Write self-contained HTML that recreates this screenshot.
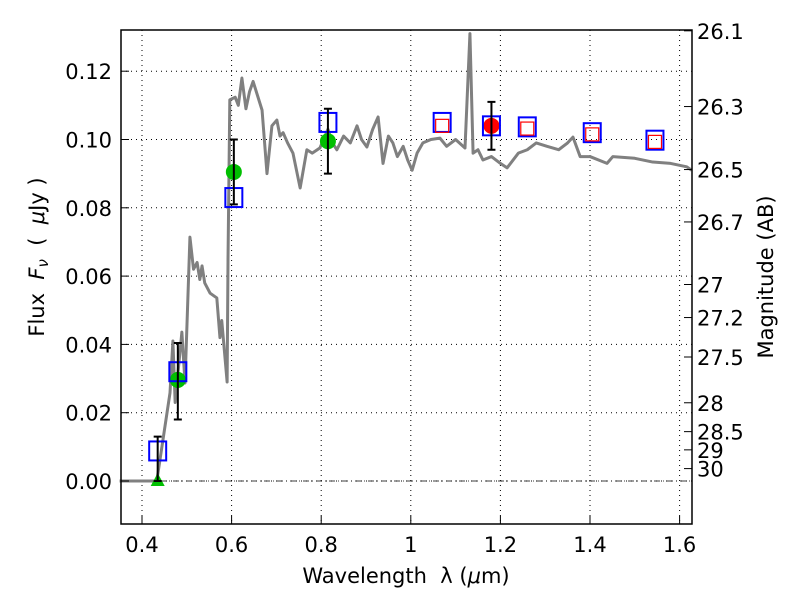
<!DOCTYPE html>
<html><head><meta charset="utf-8"><style>
body{margin:0;background:#fff}
svg{display:block;font-family:"DejaVu Sans","Liberation Sans",sans-serif}
.pre{white-space:pre}
</style></head><body>
<svg id="chart" width="800" height="600" viewBox="0 0 800 600" xmlns="http://www.w3.org/2000/svg">
<rect width="800" height="600" fill="#fff"/>
<g id="grid"></g>
<g id="spec"></g>
<g id="marks"></g>
<rect x="121" y="30" width="571" height="494" fill="none" stroke="#000" stroke-width="1.5"/>
<g id="ticks" font-size="21"></g>
<text class="pre" x="406" y="583" font-size="21" text-anchor="middle">Wavelength  λ (<tspan font-style="italic">μ</tspan>m)</text>
<text class="pre" transform="translate(44,257) rotate(-90)" font-size="21" text-anchor="middle">Flux  <tspan font-style="italic">F</tspan><tspan font-style="italic" font-size="15" dy="4">ν</tspan><tspan dy="-4">  (  <tspan font-style="italic">μ</tspan>Jy )</tspan></text>
<text transform="translate(773,277) rotate(-90)" font-size="21" text-anchor="middle">Magnitude (AB)</text>
</svg>
<script>
const xTicks=[0.4,0.6,0.8,1.0,1.2,1.4,1.6];
const xTickLabels=["0.4","0.6","0.8","1","1.2","1.4","1.6"];
const yTicks=[0,0.02,0.04,0.06,0.08,0.10,0.12];
const yTickLabels=["0.00","0.02","0.04","0.06","0.08","0.10","0.12"];
const magTicks=[26.1,26.3,26.5,26.7,27,27.2,27.5,28,28.5,29,30];
const specWave=[0.35,0.433,0.4625,0.469,0.474,0.489,0.496,0.507,0.515,0.523,0.529,0.534,0.54,0.552,0.567,0.574,0.578,0.59,0.592,0.596,0.608,0.615,0.623,0.632,0.64,0.648,0.668,0.679,0.69,0.701,0.708,0.715,0.725,0.737,0.753,0.768,0.78,0.797,0.815,0.825,0.835,0.85,0.865,0.88,0.89,0.902,0.915,0.927,0.938,0.95,0.96,0.97,0.983,0.993,1.003,1.014,1.027,1.045,1.065,1.08,1.1,1.121,1.132,1.139,1.15,1.161,1.18,1.2,1.215,1.24,1.26,1.28,1.304,1.33,1.35,1.362,1.378,1.4,1.438,1.451,1.5,1.54,1.58,1.616,1.627];
const specFlux=[0,0,0.0258,0.041,0.023,0.0436,0.0287,0.0714,0.062,0.064,0.059,0.063,0.058,0.055,0.0536,0.042,0.047,0.029,0.065,0.1116,0.1124,0.110,0.118,0.109,0.114,0.117,0.1086,0.090,0.104,0.1057,0.101,0.102,0.099,0.096,0.0858,0.097,0.096,0.0975,0.103,0.099,0.097,0.101,0.099,0.104,0.100,0.0978,0.103,0.1066,0.093,0.101,0.099,0.095,0.098,0.094,0.091,0.096,0.099,0.100,0.1004,0.098,0.100,0.0975,0.131,0.096,0.097,0.094,0.095,0.093,0.0917,0.096,0.097,0.099,0.098,0.097,0.099,0.1007,0.095,0.095,0.093,0.095,0.0945,0.0934,0.093,0.092,0.091];
const sqWave=[0.435,0.48,0.605,0.815,1.07,1.18,1.26,1.405,1.545];
const sqFlux=[0.0088,0.032,0.083,0.105,0.105,0.104,0.1037,0.102,0.0998];
const redSqWave=[1.07,1.26,1.405,1.545];
const redSqFlux=[0.104,0.1032,0.1015,0.0993];
const greenWave=[0.48,0.605,0.815];
const greenFlux=[0.0296,0.0905,0.0995];
const redWave=[1.18];
const redFlux=[0.104];
const errWave=[0.435,0.48,0.605,0.815,1.18];
const errLo=[0,0.018,0.081,0.090,0.097];
const errHi=[0.013,0.0404,0.100,0.109,0.111];
const triWave=[0.435];
const triFlux=[0];

const X=w=>142+(w-0.4)*448;
const Y=f=>481-f*3415;
const NS="http://www.w3.org/2000/svg";
function mk(parent,tag,attrs){const e=document.createElementNS(NS,tag);for(const k in attrs)e.setAttribute(k,attrs[k]);document.getElementById(parent).appendChild(e);return e;}

xTicks.forEach((t,i)=>{
  const l=mk('grid','line',{x1:X(t),x2:X(t),y1:30,y2:524,stroke:'#000','stroke-width':1,'stroke-dasharray':'1,4'});
  
  
  const tk=mk('ticks','line',{x1:X(t),x2:X(t),y1:524,y2:516,stroke:'#000'});
  
  
  const tx=mk('ticks','text',{x:X(t),y:552,'text-anchor':'middle'});tx.textContent=xTickLabels[i];
  
  
});
yTicks.forEach((t,i)=>{
  const l=mk('grid','line',{x1:121,x2:692,y1:Y(t),y2:Y(t),stroke:'#000','stroke-width':1,'stroke-dasharray':'1,4'});
  
  
  const tk=mk('ticks','line',{x1:121,x2:129,y1:Y(t),y2:Y(t),stroke:'#000'});
  
  
  const tx=mk('ticks','text',{x:112,y:Y(t)+8,'text-anchor':'end'});tx.textContent=yTickLabels[i];
  
  
});
const zl=mk('grid','line',{x1:121,x2:692,y1:Y(0),y2:Y(0),stroke:'#000','stroke-width':0.8,'stroke-dasharray':'6,3,1,3'});


magTicks.forEach(m=>{
  const f=Math.pow(10,(23.9-m)/2.5);
  const tk=mk('ticks','line',{x1:692,x2:684,y1:Y(f),y2:Y(f),stroke:'#000'});
  
  
  const tx=mk('ticks','text',{x:697,y:Y(f)+8});tx.textContent=String(m);
  
  
});
const sp=mk('spec','polyline',{points:specWave.map((w,i)=>X(w)+','+Y(specFlux[i])).join(' '),fill:'none',stroke:'#808080','stroke-width':3,'stroke-linejoin':'round'});


greenWave.forEach((w,i)=>{
  const c=mk('marks','circle',{cx:X(w),cy:Y(greenFlux[i]),r:8,fill:'#00bf00'});
  
  
});
redWave.forEach((w,i)=>{
  const c=mk('marks','circle',{cx:X(w),cy:Y(redFlux[i]),r:8,fill:'#ff0000'});
  
  
});
triWave.forEach((w,i)=>{
  const x=X(w),y=Y(triFlux[i]);
  const t=mk('marks','polygon',{points:`${x},${y-8} ${x-7},${y+5} ${x+7},${y+5}`,fill:'#00bf00'});
  
  
});
sqWave.forEach((w,i)=>{
  const s=mk('marks','rect',{x:X(w)-8.5,y:Y(sqFlux[i])-9.5,width:17,height:19,fill:'none',stroke:'#0000ff','stroke-width':2});
  
  
});
redSqWave.forEach((w,i)=>{
  const s=mk('marks','rect',{x:X(w)-6.5,y:Y(redSqFlux[i])-6.5,width:13,height:13,fill:'none',stroke:'#ff0000','stroke-width':1.2});
  
  
});
errWave.forEach((w,i)=>{
  const x=X(w),y1=Y(errLo[i]),y2=Y(errHi[i]);
  const g=mk('marks','path',{d:`M${x},${y1}V${y2}M${x-4},${y1}H${x+4}M${x-4},${y2}H${x+4}`,stroke:'#000','stroke-width':2,fill:'none'});
  
  
});
</script>
</body></html>
